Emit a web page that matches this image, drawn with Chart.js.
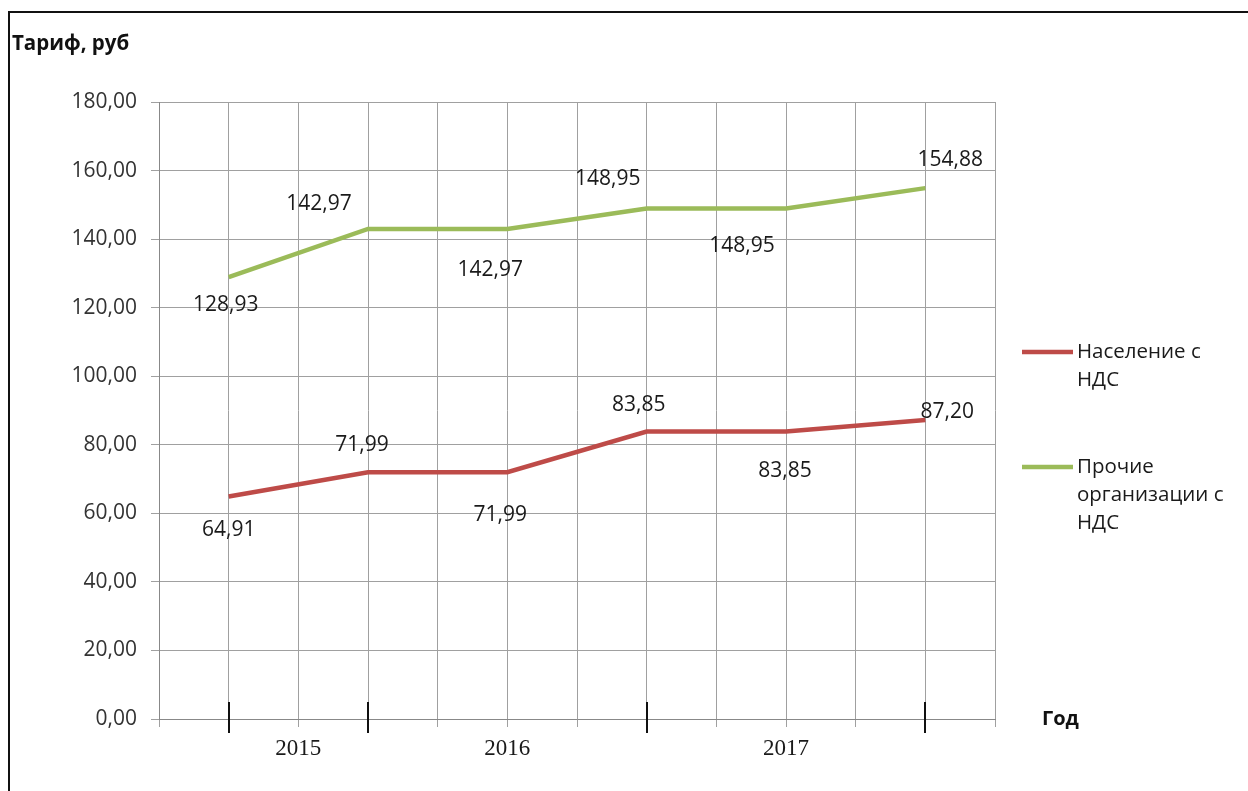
<!DOCTYPE html>
<html>
<head>
<meta charset="utf-8">
<script src="https://cdn.jsdelivr.net/npm/chart.js@4"></script>
<style>
  html, body { margin: 0; padding: 0; background: #fff; }
  #wrap { position: relative; width: 1248px; height: 791px; overflow: hidden; }
  #frame { position: absolute; left: 8px; top: 11px; right: -4px; bottom: -4px; border-top: 2px solid #111; border-left: 2px solid #111; }
  canvas { position: absolute; left: 0; top: 0; }
</style>
</head>
<body>
<div id="wrap">
  <div id="frame"></div>
  <canvas id="chart" width="1248" height="791"></canvas>
</div>
<script>
// данные тарифов, руб
const naselenie = [64.91, 71.99, 71.99, 83.85, 83.85, 87.20];
const prochie = [128.93, 142.97, 142.97, 148.95, 148.95, 154.88];
const seriesNames = ['Население с НДС', 'Прочие организации с НДС'];
const years = ['2015', '2016', '2017'];
const yearBounds = [0, 1, 3, 5]; // точки, где делятся группы лет
const yMin = 0, yMax = 180, yStep = 20;

const FONT = "'Open Sans', 'DejaVu Sans', sans-serif";
const colors = ['#be4b48', '#9bbb59'];

const toPoints = arr => arr.map((v, i) => ({ x: i, y: v }));
const fmt = v => Number(v).toFixed(2).replace('.', ',');

function yearAt(value){
  for(let i = 0; i < years.length; i++){
    const mid = (yearBounds[i] + yearBounds[i + 1]) / 2;
    if(Math.abs(value - mid) < 1e-6) return years[i];
  }
  return '';
}

function wrapText(ctx, text, maxW){
  const words = text.split(' ');
  const lines = [];
  let cur = '';
  words.forEach(w => {
    const test = cur ? cur + ' ' + w : w;
    if(cur && ctx.measureText(test).width > maxW){ lines.push(cur); cur = w; }
    else cur = test;
  });
  if(cur) lines.push(cur);
  return lines;
}

// подписи, оси, легенда в стиле Excel
const excelDecor = {
  id: 'excelDecor',
  afterDatasetsDraw(chart, args, opts){
    const ctx = chart.ctx;
    ctx.save();
    ctx.font = '21px ' + FONT;
    ctx.fillStyle = '#1a1a1a';
    ctx.textAlign = 'center';
    ctx.textBaseline = 'middle';
    chart.data.datasets.forEach((ds, i) => {
      const meta = chart.getDatasetMeta(i);
      meta.data.forEach((pt, j) => {
        const off = opts.labelOffsets[i][j];
        ctx.fillText(fmt(ds.data[j].y), pt.x + off[0], pt.y + off[1]);
      });
    });
    ctx.restore();
  },
  afterDraw(chart, args, opts){
    const ctx = chart.ctx;
    const xs = chart.scales.x;
    const area = chart.chartArea;
    ctx.save();
    // чёрные засечки групп
    ctx.strokeStyle = '#111';
    ctx.lineWidth = 2;
    yearBounds.forEach(b => {
      const px = Math.round(xs.getPixelForValue(b));
      ctx.beginPath();
      ctx.moveTo(px, area.bottom - 17);
      ctx.lineTo(px, area.bottom + 14);
      ctx.stroke();
    });
    // названия осей
    ctx.fillStyle = '#111';
    ctx.font = 'bold 20.5px ' + FONT;
    ctx.textAlign = 'left';
    ctx.textBaseline = 'middle';
    ctx.fillText('Тариф, руб', 12, 44);
    ctx.font = 'bold 20px ' + FONT;
    ctx.fillText('Год', 1042, 719);
    // легенда
    ctx.font = '20.5px ' + FONT;
    chart.data.datasets.forEach((ds, i) => {
      const y0 = opts.legendY[i];
      ctx.strokeStyle = ds.borderColor;
      ctx.lineWidth = 4.5;
      ctx.beginPath();
      ctx.moveTo(1022, y0);
      ctx.lineTo(1073, y0);
      ctx.stroke();
      ctx.fillStyle = '#1a1a1a';
      wrapText(ctx, ds.label, 165).forEach((ln, k) => {
        ctx.fillText(ln, 1077, y0 + k * 28);
      });
    });
    ctx.restore();
  }
};

new Chart(document.getElementById('chart'), {
  type: 'line',
  data: {
    datasets: [
      { label: seriesNames[0], data: toPoints(naselenie), borderColor: colors[0], borderWidth: 4.5, pointRadius: 0, tension: 0 },
      { label: seriesNames[1], data: toPoints(prochie), borderColor: colors[1], borderWidth: 4.5, pointRadius: 0, tension: 0 }
    ]
  },
  options: {
    responsive: false,
    animation: false,
    layout: { padding: { top: 102, right: 253, left: 0, bottom: 0 } },
    plugins: {
      legend: { display: false },
      tooltip: { enabled: false },
      excelDecor: {
        labelOffsets: [
          [[0, 34], [-6, -27], [-7, 43], [-8, -27], [-1, 39], [22, -8]],
          [[-3, 28], [-49, -25], [-17, 41], [-39, -29], [-44, 38], [25, -28]]
        ],
        legendY: [352, 467]
      }
    },
    scales: {
      x: {
        type: 'linear',
        min: -0.5,
        max: 5.5,
        afterFit(s){ s.height = 72; },
        ticks: {
          stepSize: 0.5,
          autoSkip: false,
          maxRotation: 0,
          padding: 8,
          color: '#1a1a1a',
          font: { family: "'Liberation Serif', serif", size: 23 },
          callback: v => yearAt(v)
        },
        grid: { color: '#a0a0a0', lineWidth: 1, tickLength: 8, tickColor: '#a0a0a0' },
        border: { color: '#888', width: 1 }
      },
      y: {
        min: yMin,
        max: yMax,
        afterFit(s){ s.width = 159; },
        ticks: {
          stepSize: yStep,
          padding: 14,
          color: '#333',
          font: { family: FONT, size: 21 },
          callback: v => fmt(v)
        },
        grid: { color: '#a0a0a0', lineWidth: 1, tickLength: 8, tickColor: '#a0a0a0' },
        border: { color: '#888', width: 1 }
      }
    }
  },
  plugins: [excelDecor]
});
</script>
</body>
</html>
